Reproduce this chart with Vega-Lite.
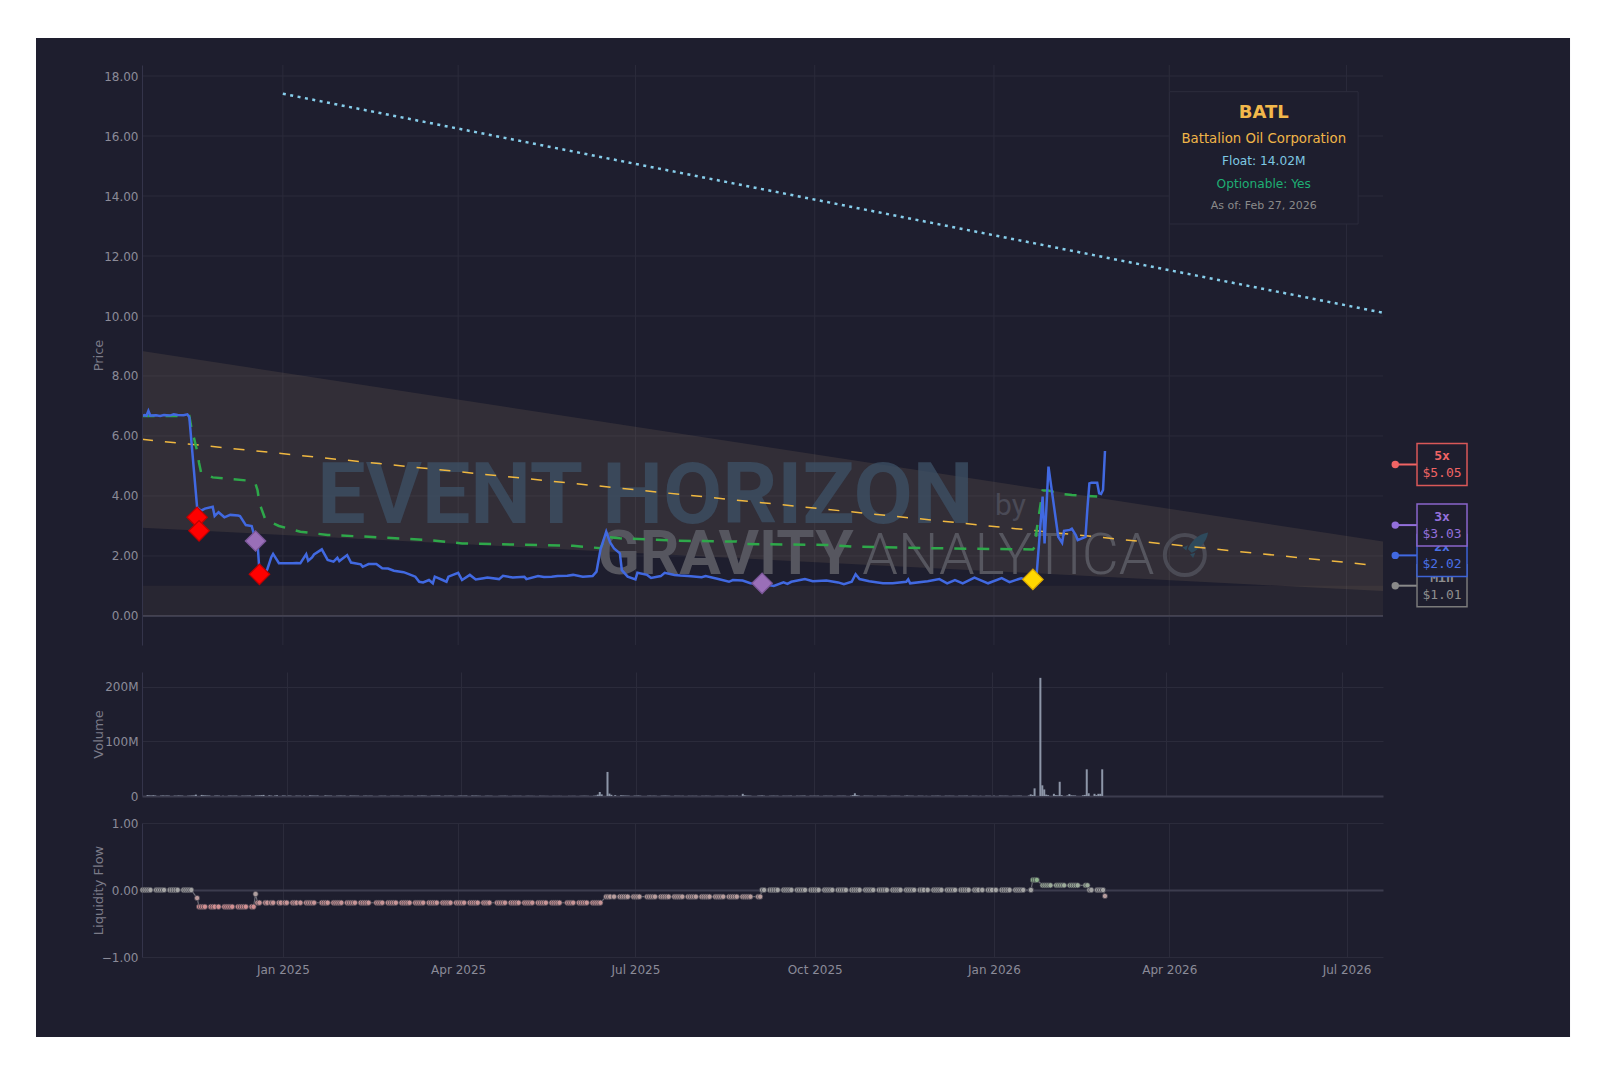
{
"$schema": "https://vega.github.io/schema/vega-lite/v6.json",
"background": "#ffffff",
"padding": {"left": 35, "top": 38, "right": 33, "bottom": 37},
"config": {
  "view": {"stroke": null},
  "font": "DejaVu Sans",
  "axis": {"gridColor": "#2b2b3b", "labelColor": "#8b8b98", "titleColor": "#7b7b88", "labelFont": "DejaVu Sans", "titleFont": "DejaVu Sans", "labelFontSize": 12, "titleFontSize": 13, "titleFontWeight": "normal", "ticks": false, "domain": false},
  "axisY": {"labelPadding": 4, "domain": true, "domainColor": "#34344a", "titleBaseline": "middle", "titleAngle": -90,
    "gridColor": {"condition": {"test": "datum.value === 0", "value": "#3c3c4e"}, "value": "#2b2b3b"},
    "gridWidth": {"condition": {"test": "datum.value === 0", "value": 2}, "value": 1}}
},
"datasets": {
  "daily": [
{"d":"2024-10-21","v":1.6,"f":0},{"d":"2024-10-22","v":1.1,"f":0},{"d":"2024-10-23","v":0.9,"f":0},{"d":"2024-10-24","v":1.4,"f":0},{"d":"2024-10-25","v":0.8,"f":0},
{"d":"2024-10-28","v":0.7,"f":0},{"d":"2024-10-29","v":0.9,"f":0},{"d":"2024-10-30","v":0.6,"f":0},{"d":"2024-10-31","v":0.8,"f":0},
{"d":"2024-11-01","v":0.7,"f":0},{"d":"2024-11-04","v":0.6,"f":0},{"d":"2024-11-05","v":0.5,"f":0},{"d":"2024-11-06","v":0.9,"f":0},{"d":"2024-11-07","v":0.7,"f":0},{"d":"2024-11-08","v":0.6,"f":0},
{"d":"2024-11-11","v":0.5,"f":0},{"d":"2024-11-12","v":0.6,"f":0},{"d":"2024-11-13","v":0.8,"f":0},{"d":"2024-11-14","v":0.9,"f":0},{"d":"2024-11-15","v":2.5,"f":0},
{"d":"2024-11-18","v":2.0,"f":-0.12},{"d":"2024-11-19","v":1.4,"f":-0.25},{"d":"2024-11-20","v":1.1,"f":-0.25},{"d":"2024-11-21","v":0.9,"f":-0.25},{"d":"2024-11-22","v":0.8,"f":-0.25},
{"d":"2024-11-25","v":0.7,"f":-0.25},{"d":"2024-11-26","v":0.8,"f":-0.25},{"d":"2024-11-27","v":0.6,"f":-0.25},{"d":"2024-11-29","v":0.4,"f":-0.25},
{"d":"2024-12-02","v":0.6,"f":-0.25},{"d":"2024-12-03","v":0.7,"f":-0.25},{"d":"2024-12-04","v":0.5,"f":-0.25},{"d":"2024-12-05","v":0.6,"f":-0.25},{"d":"2024-12-06","v":0.7,"f":-0.25},
{"d":"2024-12-09","v":0.6,"f":-0.25},{"d":"2024-12-10","v":0.5,"f":-0.25},{"d":"2024-12-11","v":0.6,"f":-0.25},{"d":"2024-12-12","v":0.7,"f":-0.25},{"d":"2024-12-13","v":0.8,"f":-0.25},
{"d":"2024-12-16","v":0.9,"f":-0.25},{"d":"2024-12-17","v":1.0,"f":-0.25},{"d":"2024-12-18","v":1.2,"f":-0.06},{"d":"2024-12-19","v":1.5,"f":-0.19},{"d":"2024-12-20","v":2.0,"f":-0.19},
{"d":"2024-12-23","v":1.2,"f":-0.19},{"d":"2024-12-24","v":0.6,"f":-0.19},{"d":"2024-12-26","v":0.9,"f":-0.19},{"d":"2024-12-27","v":1.3,"f":-0.19},{"d":"2024-12-30","v":0.8,"f":-0.19},{"d":"2024-12-31","v":0.7,"f":-0.19},
{"d":"2025-01-02","v":0.7,"f":-0.19},{"d":"2025-01-03","v":0.6,"f":-0.19},{"d":"2025-01-06","v":0.6,"f":-0.19},{"d":"2025-01-07","v":0.5,"f":-0.19},{"d":"2025-01-08","v":0.5,"f":-0.19},{"d":"2025-01-10","v":0.6,"f":-0.19},
{"d":"2025-01-13","v":1.1,"f":-0.19},{"d":"2025-01-14","v":0.8,"f":-0.19},{"d":"2025-01-15","v":0.7,"f":-0.19},{"d":"2025-01-16","v":0.6,"f":-0.19},{"d":"2025-01-17","v":0.8,"f":-0.19},
{"d":"2025-01-21","v":1.0,"f":-0.19},{"d":"2025-01-22","v":0.7,"f":-0.19},{"d":"2025-01-23","v":0.6,"f":-0.19},{"d":"2025-01-24","v":0.6,"f":-0.19},
{"d":"2025-01-27","v":0.5,"f":-0.19},{"d":"2025-01-28","v":0.6,"f":-0.19},{"d":"2025-01-29","v":0.7,"f":-0.19},{"d":"2025-01-30","v":0.5,"f":-0.19},{"d":"2025-01-31","v":0.6,"f":-0.19},
{"d":"2025-02-03","v":0.8,"f":-0.19},{"d":"2025-02-04","v":0.6,"f":-0.19},{"d":"2025-02-05","v":0.6,"f":-0.19},{"d":"2025-02-06","v":0.5,"f":-0.19},{"d":"2025-02-07","v":0.5,"f":-0.19},
{"d":"2025-02-10","v":0.5,"f":-0.19},{"d":"2025-02-11","v":0.6,"f":-0.19},{"d":"2025-02-12","v":0.4,"f":-0.19},{"d":"2025-02-13","v":0.5,"f":-0.19},{"d":"2025-02-14","v":0.5,"f":-0.19},
{"d":"2025-02-18","v":0.4,"f":-0.19},{"d":"2025-02-19","v":0.5,"f":-0.19},{"d":"2025-02-20","v":0.4,"f":-0.19},{"d":"2025-02-21","v":0.5,"f":-0.19},
{"d":"2025-02-24","v":0.4,"f":-0.19},{"d":"2025-02-25","v":0.5,"f":-0.19},{"d":"2025-02-26","v":0.4,"f":-0.19},{"d":"2025-02-27","v":0.5,"f":-0.19},{"d":"2025-02-28","v":0.6,"f":-0.19},
{"d":"2025-03-03","v":0.5,"f":-0.19},{"d":"2025-03-04","v":0.4,"f":-0.19},{"d":"2025-03-05","v":0.5,"f":-0.19},{"d":"2025-03-06","v":0.4,"f":-0.19},{"d":"2025-03-07","v":0.5,"f":-0.19},
{"d":"2025-03-10","v":0.6,"f":-0.19},{"d":"2025-03-11","v":0.5,"f":-0.19},{"d":"2025-03-12","v":0.7,"f":-0.19},{"d":"2025-03-13","v":0.6,"f":-0.19},{"d":"2025-03-14","v":0.5,"f":-0.19},
{"d":"2025-03-17","v":0.6,"f":-0.19},{"d":"2025-03-18","v":0.5,"f":-0.19},{"d":"2025-03-19","v":0.6,"f":-0.19},{"d":"2025-03-20","v":0.7,"f":-0.19},{"d":"2025-03-21","v":0.8,"f":-0.19},
{"d":"2025-03-24","v":0.5,"f":-0.19},{"d":"2025-03-25","v":0.4,"f":-0.19},{"d":"2025-03-26","v":0.5,"f":-0.19},{"d":"2025-03-27","v":0.6,"f":-0.19},{"d":"2025-03-28","v":0.4,"f":-0.19},{"d":"2025-03-31","v":0.5,"f":-0.19},
{"d":"2025-04-01","v":0.7,"f":-0.19},{"d":"2025-04-02","v":0.5,"f":-0.19},{"d":"2025-04-03","v":0.6,"f":-0.19},{"d":"2025-04-04","v":0.7,"f":-0.19},
{"d":"2025-04-07","v":0.8,"f":-0.19},{"d":"2025-04-08","v":0.6,"f":-0.19},{"d":"2025-04-09","v":0.7,"f":-0.19},{"d":"2025-04-10","v":0.5,"f":-0.19},{"d":"2025-04-11","v":0.4,"f":-0.19},
{"d":"2025-04-14","v":0.4,"f":-0.19},{"d":"2025-04-15","v":0.5,"f":-0.19},{"d":"2025-04-16","v":0.4,"f":-0.19},{"d":"2025-04-17","v":0.4,"f":-0.19},
{"d":"2025-04-21","v":0.3,"f":-0.19},{"d":"2025-04-22","v":0.4,"f":-0.19},{"d":"2025-04-23","v":0.4,"f":-0.19},{"d":"2025-04-24","v":0.5,"f":-0.19},{"d":"2025-04-25","v":0.3,"f":-0.19},
{"d":"2025-04-28","v":0.3,"f":-0.19},{"d":"2025-04-29","v":0.4,"f":-0.19},{"d":"2025-04-30","v":0.3,"f":-0.19},
{"d":"2025-05-01","v":0.3,"f":-0.19},{"d":"2025-05-02","v":0.4,"f":-0.19},{"d":"2025-05-05","v":0.3,"f":-0.19},{"d":"2025-05-06","v":0.4,"f":-0.19},{"d":"2025-05-07","v":0.3,"f":-0.19},{"d":"2025-05-08","v":0.3,"f":-0.19},{"d":"2025-05-09","v":0.2,"f":-0.19},
{"d":"2025-05-12","v":0.4,"f":-0.19},{"d":"2025-05-13","v":0.3,"f":-0.19},{"d":"2025-05-14","v":0.3,"f":-0.19},{"d":"2025-05-15","v":0.2,"f":-0.19},{"d":"2025-05-16","v":0.2,"f":-0.19},
{"d":"2025-05-19","v":0.3,"f":-0.19},{"d":"2025-05-20","v":0.2,"f":-0.19},{"d":"2025-05-21","v":0.2,"f":-0.19},{"d":"2025-05-22","v":0.3,"f":-0.19},{"d":"2025-05-23","v":0.2,"f":-0.19},
{"d":"2025-05-27","v":0.3,"f":-0.19},{"d":"2025-05-28","v":0.2,"f":-0.19},{"d":"2025-05-29","v":0.3,"f":-0.19},{"d":"2025-05-30","v":0.3,"f":-0.19},
{"d":"2025-06-02","v":0.3,"f":-0.19},{"d":"2025-06-03","v":0.4,"f":-0.19},{"d":"2025-06-04","v":0.5,"f":-0.19},{"d":"2025-06-05","v":0.4,"f":-0.19},{"d":"2025-06-06","v":0.3,"f":-0.19},
{"d":"2025-06-09","v":0.5,"f":-0.19},{"d":"2025-06-10","v":0.8,"f":-0.19},{"d":"2025-06-11","v":2.5,"f":-0.19},{"d":"2025-06-12","v":7.3,"f":-0.19},{"d":"2025-06-13","v":3.0,"f":-0.19},
{"d":"2025-06-16","v":44,"f":-0.10},{"d":"2025-06-17","v":4.4,"f":-0.10},{"d":"2025-06-18","v":2.2,"f":-0.10},{"d":"2025-06-20","v":1.5,"f":-0.10},
{"d":"2025-06-23","v":1.2,"f":-0.10},{"d":"2025-06-24","v":1.0,"f":-0.10},{"d":"2025-06-25","v":0.8,"f":-0.10},{"d":"2025-06-26","v":0.7,"f":-0.10},{"d":"2025-06-27","v":0.6,"f":-0.10},{"d":"2025-06-30","v":0.6,"f":-0.10},
{"d":"2025-07-01","v":0.6,"f":-0.10},{"d":"2025-07-02","v":0.8,"f":-0.10},{"d":"2025-07-03","v":0.5,"f":-0.10},{"d":"2025-07-07","v":0.5,"f":-0.10},{"d":"2025-07-08","v":0.6,"f":-0.10},{"d":"2025-07-09","v":0.4,"f":-0.10},{"d":"2025-07-10","v":0.5,"f":-0.10},{"d":"2025-07-11","v":0.4,"f":-0.10},
{"d":"2025-07-14","v":0.5,"f":-0.10},{"d":"2025-07-15","v":0.6,"f":-0.10},{"d":"2025-07-16","v":0.7,"f":-0.10},{"d":"2025-07-17","v":0.5,"f":-0.10},{"d":"2025-07-18","v":0.4,"f":-0.10},
{"d":"2025-07-21","v":0.5,"f":-0.10},{"d":"2025-07-22","v":0.4,"f":-0.10},{"d":"2025-07-23","v":0.4,"f":-0.10},{"d":"2025-07-24","v":0.3,"f":-0.10},{"d":"2025-07-25","v":0.4,"f":-0.10},
{"d":"2025-07-28","v":0.4,"f":-0.10},{"d":"2025-07-29","v":0.3,"f":-0.10},{"d":"2025-07-30","v":0.4,"f":-0.10},{"d":"2025-07-31","v":0.3,"f":-0.10},
{"d":"2025-08-01","v":0.4,"f":-0.10},{"d":"2025-08-04","v":0.4,"f":-0.10},{"d":"2025-08-05","v":0.3,"f":-0.10},{"d":"2025-08-06","v":0.5,"f":-0.10},{"d":"2025-08-07","v":0.4,"f":-0.10},{"d":"2025-08-08","v":0.3,"f":-0.10},
{"d":"2025-08-11","v":0.3,"f":-0.10},{"d":"2025-08-12","v":0.4,"f":-0.10},{"d":"2025-08-13","v":0.3,"f":-0.10},{"d":"2025-08-14","v":0.4,"f":-0.10},{"d":"2025-08-15","v":0.3,"f":-0.10},
{"d":"2025-08-18","v":0.5,"f":-0.10},{"d":"2025-08-19","v":0.4,"f":-0.10},{"d":"2025-08-20","v":0.5,"f":-0.10},{"d":"2025-08-21","v":0.4,"f":-0.10},{"d":"2025-08-22","v":0.6,"f":-0.10},
{"d":"2025-08-25","v":4.0,"f":-0.10},{"d":"2025-08-26","v":1.2,"f":-0.10},{"d":"2025-08-27","v":0.7,"f":-0.10},{"d":"2025-08-28","v":0.6,"f":-0.10},{"d":"2025-08-29","v":0.5,"f":-0.10},
{"d":"2025-09-02","v":0.6,"f":-0.10},{"d":"2025-09-03","v":0.7,"f":-0.10},{"d":"2025-09-04","v":0.9,"f":0},{"d":"2025-09-05","v":0.5,"f":0},
{"d":"2025-09-08","v":0.4,"f":0},{"d":"2025-09-09","v":0.5,"f":0},{"d":"2025-09-10","v":0.6,"f":0},{"d":"2025-09-11","v":0.4,"f":0},{"d":"2025-09-12","v":0.5,"f":0},
{"d":"2025-09-15","v":0.5,"f":0},{"d":"2025-09-16","v":0.4,"f":0},{"d":"2025-09-17","v":0.4,"f":0},{"d":"2025-09-18","v":0.5,"f":0},{"d":"2025-09-19","v":0.6,"f":0},
{"d":"2025-09-22","v":0.5,"f":0},{"d":"2025-09-23","v":0.4,"f":0},{"d":"2025-09-24","v":0.5,"f":0},{"d":"2025-09-25","v":0.6,"f":0},{"d":"2025-09-26","v":0.7,"f":0},{"d":"2025-09-29","v":0.5,"f":0},{"d":"2025-09-30","v":0.4,"f":0},
{"d":"2025-10-01","v":0.5,"f":0},{"d":"2025-10-02","v":0.4,"f":0},{"d":"2025-10-03","v":0.5,"f":0},{"d":"2025-10-06","v":0.4,"f":0},{"d":"2025-10-07","v":0.5,"f":0},{"d":"2025-10-08","v":0.4,"f":0},{"d":"2025-10-09","v":0.4,"f":0},{"d":"2025-10-10","v":0.5,"f":0},
{"d":"2025-10-13","v":0.4,"f":0},{"d":"2025-10-14","v":0.5,"f":0},{"d":"2025-10-15","v":0.4,"f":0},{"d":"2025-10-16","v":0.5,"f":0},{"d":"2025-10-17","v":0.4,"f":0},
{"d":"2025-10-20","v":0.6,"f":0},{"d":"2025-10-21","v":1.5,"f":0},{"d":"2025-10-22","v":5.0,"f":0},{"d":"2025-10-23","v":1.4,"f":0},{"d":"2025-10-24","v":0.8,"f":0},
{"d":"2025-10-27","v":0.6,"f":0},{"d":"2025-10-28","v":0.5,"f":0},{"d":"2025-10-29","v":0.5,"f":0},{"d":"2025-10-30","v":0.4,"f":0},{"d":"2025-10-31","v":0.4,"f":0},
{"d":"2025-11-03","v":0.5,"f":0},{"d":"2025-11-04","v":0.4,"f":0},{"d":"2025-11-05","v":0.4,"f":0},{"d":"2025-11-06","v":0.5,"f":0},{"d":"2025-11-07","v":0.4,"f":0},
{"d":"2025-11-10","v":0.4,"f":0},{"d":"2025-11-11","v":0.4,"f":0},{"d":"2025-11-12","v":0.5,"f":0},{"d":"2025-11-13","v":0.4,"f":0},{"d":"2025-11-14","v":0.4,"f":0},
{"d":"2025-11-17","v":0.5,"f":0},{"d":"2025-11-18","v":0.8,"f":0},{"d":"2025-11-19","v":0.5,"f":0},{"d":"2025-11-20","v":0.4,"f":0},{"d":"2025-11-21","v":0.4,"f":0},
{"d":"2025-11-24","v":0.5,"f":0},{"d":"2025-11-25","v":0.4,"f":0},{"d":"2025-11-26","v":0.4,"f":0},{"d":"2025-11-28","v":0.3,"f":0},
{"d":"2025-12-01","v":0.5,"f":0},{"d":"2025-12-02","v":0.4,"f":0},{"d":"2025-12-03","v":0.5,"f":0},{"d":"2025-12-04","v":0.6,"f":0},{"d":"2025-12-05","v":0.4,"f":0},
{"d":"2025-12-08","v":0.5,"f":0},{"d":"2025-12-09","v":0.4,"f":0},{"d":"2025-12-10","v":0.5,"f":0},{"d":"2025-12-11","v":0.4,"f":0},{"d":"2025-12-12","v":0.4,"f":0},
{"d":"2025-12-15","v":0.5,"f":0},{"d":"2025-12-16","v":0.4,"f":0},{"d":"2025-12-17","v":0.4,"f":0},{"d":"2025-12-18","v":0.5,"f":0},{"d":"2025-12-19","v":0.6,"f":0},
{"d":"2025-12-22","v":0.5,"f":0},{"d":"2025-12-23","v":0.4,"f":0},{"d":"2025-12-24","v":0.3,"f":0},{"d":"2025-12-26","v":0.4,"f":0},{"d":"2025-12-29","v":0.5,"f":0},{"d":"2025-12-30","v":0.4,"f":0},{"d":"2025-12-31","v":0.4,"f":0},
{"d":"2026-01-02","v":0.5,"f":0},{"d":"2026-01-05","v":0.6,"f":0},{"d":"2026-01-06","v":0.5,"f":0},{"d":"2026-01-07","v":0.4,"f":0},{"d":"2026-01-08","v":0.5,"f":0},{"d":"2026-01-09","v":0.4,"f":0},
{"d":"2026-01-12","v":0.5,"f":0},{"d":"2026-01-13","v":0.4,"f":0},{"d":"2026-01-14","v":0.5,"f":0},{"d":"2026-01-15","v":0.6,"f":0},{"d":"2026-01-16","v":0.5,"f":0},
{"d":"2026-01-20","v":0.8,"f":0},{"d":"2026-01-21","v":3.0,"f":0.15},{"d":"2026-01-22","v":2.0,"f":0.15},{"d":"2026-01-23","v":14,"f":0.15},
{"d":"2026-01-26","v":216,"f":0.07},{"d":"2026-01-27","v":19.5,"f":0.07},{"d":"2026-01-28","v":12,"f":0.07},{"d":"2026-01-29","v":2.5,"f":0.07},{"d":"2026-01-30","v":1.5,"f":0.07},
{"d":"2026-02-02","v":4.0,"f":0.07},{"d":"2026-02-03","v":1.5,"f":0.07},{"d":"2026-02-04","v":1.2,"f":0.07},{"d":"2026-02-05","v":26,"f":0.07},{"d":"2026-02-06","v":1.5,"f":0.07},
{"d":"2026-02-09","v":1.0,"f":0.07},{"d":"2026-02-10","v":3.5,"f":0.07},{"d":"2026-02-11","v":1.2,"f":0.07},{"d":"2026-02-12","v":1.0,"f":0.07},{"d":"2026-02-13","v":0.9,"f":0.07},
{"d":"2026-02-17","v":1.2,"f":0.07},{"d":"2026-02-18","v":2.0,"f":0.07},{"d":"2026-02-19","v":48.8,"f":0},{"d":"2026-02-20","v":5.0,"f":0},
{"d":"2026-02-23","v":4.0,"f":0},{"d":"2026-02-24","v":1.5,"f":0},{"d":"2026-02-25","v":4.0,"f":0},{"d":"2026-02-26","v":4.0,"f":0},{"d":"2026-02-27","v":48.8,"f":-0.09}
  ],
  "price": [
{"d":"2024-10-21","y":6.67},{"d":"2024-10-22","y":6.70},{"d":"2024-10-23","y":6.68},{"d":"2024-10-24","y":6.84},{"d":"2024-10-25","y":6.68},{"d":"2024-10-28","y":6.69},{"d":"2024-10-30","y":6.67},
{"d":"2024-11-01","y":6.70},{"d":"2024-11-04","y":6.68},{"d":"2024-11-06","y":6.72},{"d":"2024-11-08","y":6.70},{"d":"2024-11-11","y":6.69},{"d":"2024-11-13","y":6.72},{"d":"2024-11-14","y":6.62},
{"d":"2024-11-18","y":3.62},{"d":"2024-11-20","y":3.51},{"d":"2024-11-22","y":3.58},{"d":"2024-11-26","y":3.64},{"d":"2024-11-27","y":3.33},{"d":"2024-11-29","y":3.46},
{"d":"2024-12-02","y":3.29},{"d":"2024-12-05","y":3.37},{"d":"2024-12-09","y":3.35},{"d":"2024-12-10","y":3.33},{"d":"2024-12-13","y":3.03},{"d":"2024-12-16","y":3.00},{"d":"2024-12-17","y":2.76},
{"d":"2024-12-18","y":2.55},{"d":"2024-12-19","y":2.42},{"d":"2024-12-20","y":1.50},{"d":"2024-12-23","y":1.45},{"d":"2024-12-24","y":1.55},{"d":"2024-12-26","y":1.95},{"d":"2024-12-27","y":2.07},{"d":"2024-12-30","y":1.76},
{"d":"2025-01-02","y":1.76},{"d":"2025-01-06","y":1.76},{"d":"2025-01-08","y":1.77},{"d":"2025-01-10","y":1.76},{"d":"2025-01-13","y":2.06},{"d":"2025-01-14","y":1.84},{"d":"2025-01-16","y":1.95},{"d":"2025-01-17","y":2.05},
{"d":"2025-01-21","y":2.22},{"d":"2025-01-24","y":1.87},{"d":"2025-01-27","y":1.81},{"d":"2025-01-29","y":1.94},{"d":"2025-01-30","y":1.83},{"d":"2025-02-03","y":2.03},{"d":"2025-02-05","y":1.78},{"d":"2025-02-07","y":1.76},
{"d":"2025-02-10","y":1.72},{"d":"2025-02-11","y":1.64},{"d":"2025-02-14","y":1.73},{"d":"2025-02-18","y":1.73},{"d":"2025-02-21","y":1.59},{"d":"2025-02-24","y":1.58},{"d":"2025-02-27","y":1.51},
{"d":"2025-03-04","y":1.46},{"d":"2025-03-07","y":1.39},{"d":"2025-03-10","y":1.31},{"d":"2025-03-12","y":1.14},{"d":"2025-03-14","y":1.12},{"d":"2025-03-17","y":1.20},{"d":"2025-03-19","y":1.09},{"d":"2025-03-20","y":1.31},
{"d":"2025-03-24","y":1.20},{"d":"2025-03-26","y":1.14},{"d":"2025-03-27","y":1.31},{"d":"2025-04-01","y":1.44},{"d":"2025-04-03","y":1.20},{"d":"2025-04-07","y":1.37},{"d":"2025-04-10","y":1.22},{"d":"2025-04-14","y":1.26},
{"d":"2025-04-16","y":1.28},{"d":"2025-04-22","y":1.23},{"d":"2025-04-24","y":1.34},{"d":"2025-04-29","y":1.28},{"d":"2025-05-05","y":1.31},{"d":"2025-05-06","y":1.23},{"d":"2025-05-12","y":1.33},{"d":"2025-05-15","y":1.30},
{"d":"2025-05-19","y":1.31},{"d":"2025-05-22","y":1.33},{"d":"2025-05-27","y":1.34},{"d":"2025-05-30","y":1.37},{"d":"2025-06-04","y":1.31},{"d":"2025-06-09","y":1.33},{"d":"2025-06-11","y":1.48},{"d":"2025-06-13","y":2.20},
{"d":"2025-06-16","y":2.81},{"d":"2025-06-18","y":2.45},{"d":"2025-06-20","y":2.25},{"d":"2025-06-23","y":2.09},{"d":"2025-06-24","y":1.53},{"d":"2025-06-27","y":1.31},{"d":"2025-07-01","y":1.22},{"d":"2025-07-02","y":1.44},
{"d":"2025-07-07","y":1.37},{"d":"2025-07-09","y":1.27},{"d":"2025-07-14","y":1.33},{"d":"2025-07-16","y":1.44},{"d":"2025-07-21","y":1.37},{"d":"2025-07-24","y":1.35},{"d":"2025-07-28","y":1.33},{"d":"2025-08-04","y":1.29},
{"d":"2025-08-06","y":1.33},{"d":"2025-08-12","y":1.24},{"d":"2025-08-18","y":1.14},{"d":"2025-08-20","y":1.20},{"d":"2025-08-25","y":1.18},{"d":"2025-08-29","y":1.09},{"d":"2025-09-04","y":1.07},{"d":"2025-09-10","y":1.00},
{"d":"2025-09-15","y":1.12},{"d":"2025-09-17","y":1.07},{"d":"2025-09-19","y":1.14},{"d":"2025-09-26","y":1.23},{"d":"2025-09-30","y":1.16},{"d":"2025-10-07","y":1.18},{"d":"2025-10-13","y":1.12},{"d":"2025-10-16","y":1.06},
{"d":"2025-10-20","y":1.14},{"d":"2025-10-22","y":1.39},{"d":"2025-10-24","y":1.23},{"d":"2025-10-29","y":1.16},{"d":"2025-11-05","y":1.09},{"d":"2025-11-10","y":1.09},{"d":"2025-11-17","y":1.14},{"d":"2025-11-18","y":1.22},
{"d":"2025-11-19","y":1.09},{"d":"2025-11-28","y":1.16},{"d":"2025-12-04","y":1.23},{"d":"2025-12-08","y":1.09},{"d":"2025-12-12","y":1.20},{"d":"2025-12-16","y":1.09},{"d":"2025-12-22","y":1.28},{"d":"2025-12-29","y":1.09},
{"d":"2026-01-05","y":1.26},{"d":"2026-01-09","y":1.13},{"d":"2026-01-15","y":1.26},{"d":"2026-01-20","y":1.18},{"d":"2026-01-21","y":1.22},{"d":"2026-01-23","y":1.45},{"d":"2026-01-26","y":3.98},{"d":"2026-01-27","y":2.42},
{"d":"2026-01-29","y":4.98},{"d":"2026-02-03","y":2.64},{"d":"2026-02-05","y":2.44},{"d":"2026-02-06","y":2.84},{"d":"2026-02-09","y":2.87},{"d":"2026-02-10","y":2.91},{"d":"2026-02-12","y":2.70},{"d":"2026-02-13","y":2.53},
{"d":"2026-02-17","y":2.64},{"d":"2026-02-18","y":3.60},{"d":"2026-02-19","y":4.42},{"d":"2026-02-20","y":4.44},{"d":"2026-02-23","y":4.44},{"d":"2026-02-24","y":4.09},{"d":"2026-02-25","y":4.07},{"d":"2026-02-26","y":4.20},{"d":"2026-02-27","y":5.50}
  ],
  "avg": [
{"d":"2024-10-21","y":6.67},{"d":"2024-11-14","y":6.67},{"d":"2024-11-15","y":6.30},{"d":"2024-11-18","y":5.50},{"d":"2024-11-19","y":5.10},{"d":"2024-11-20","y":4.80},{"d":"2024-11-26","y":4.62},
{"d":"2024-12-13","y":4.52},{"d":"2024-12-18","y":4.40},{"d":"2024-12-19","y":4.20},{"d":"2024-12-20","y":3.76},{"d":"2024-12-23","y":3.22},{"d":"2024-12-30","y":3.00},
{"d":"2025-01-10","y":2.81},{"d":"2025-01-24","y":2.70},{"d":"2025-02-14","y":2.64},{"d":"2025-03-17","y":2.53},{"d":"2025-04-03","y":2.42},{"d":"2025-05-30","y":2.34},{"d":"2025-06-13","y":2.26},
{"d":"2025-06-16","y":2.64},{"d":"2025-06-23","y":2.59},{"d":"2025-07-22","y":2.51},{"d":"2025-08-22","y":2.48},{"d":"2025-08-25","y":2.40},{"d":"2025-10-07","y":2.37},{"d":"2025-10-22","y":2.31},{"d":"2025-11-28","y":2.26},
{"d":"2026-01-21","y":2.22},{"d":"2026-01-22","y":2.30},{"d":"2026-01-23","y":2.90},{"d":"2026-01-26","y":4.18},{"d":"2026-01-29","y":4.18},{"d":"2026-02-05","y":4.07},{"d":"2026-02-10","y":4.03},{"d":"2026-02-23","y":3.98}
  ],
  "dotted": [{"d":"2025-01-01","y":17.41},{"d":"2026-07-19T17:00:00","y":10.11}],
  "trend": [{"d":"2024-10-20T17:00:00","y":5.89},{"d":"2026-07-15","y":1.69}],
  "cone": [{"d":"2024-10-20T17:00:00","y":8.83,"y2":2.94},{"d":"2026-07-19T17:00:00","y":2.48,"y2":0.83}],
  "floor": [{"d":"2024-10-20T17:00:00","y":1.01,"y2":0},{"d":"2026-07-19T17:00:00","y":1.01,"y2":0}],
  "gridx": [{"d":"2025-01-01"},{"d":"2025-04-01"},{"d":"2025-07-01"},{"d":"2025-10-01"},{"d":"2026-01-01"},{"d":"2026-04-01"},{"d":"2026-07-01"}],
  "gridy": [{"y":2},{"y":4},{"y":6},{"y":8},{"y":10},{"y":12},{"y":14},{"y":16},{"y":18}],
  "events": [{"d":"2024-11-18","y":3.29,"c":"red"},{"d":"2024-11-19","y":2.84,"c":"red"},{"d":"2024-12-18","y":2.50,"c":"purple"},{"d":"2024-12-20","y":1.39,"c":"red"},{"d":"2025-09-04","y":1.09,"c":"purple"},{"d":"2026-01-21","y":1.22,"c":"gold"}],
  "levels": [{"y":1.01,"lab":"Min","t":"$1.01"},{"y":2.02,"lab":"2x","t":"$2.02"},{"y":3.03,"lab":"3x","t":"$3.03"},{"y":5.05,"lab":"5x","t":"$5.05"}]
},
"bounds": "flush",
"spacing": 27,
"vconcat": [
{
  "width": 1241, "height": 580,
  "layer": [
    {"data": {"values": [{"t": "panel"}]}, "mark": {"type": "rect", "fill": "#1e1e2e"},
      "encoding": {
        "x": {"datum": {"year":2024,"month":8,"date":27,"hours":7,"minutes":10}, "type": "temporal",
          "scale": {"domain": [{"year":2024,"month":10,"date":20,"hours":17},{"year":2026,"month":7,"date":19,"hours":17}]},
          "axis": {"title": null, "labels": false, "grid": false, "ticks": false, "domain": false}},
        "x2": {"datum": {"year":2026,"month":10,"date":23,"hours":17}},
        "y": {"datum": 19.267, "type": "quantitative", "scale": {"domain": [-0.967, 18.367], "nice": false, "zero": false},
          "axis": {"title": "Price", "values": [0,2,4,6,8,10,12,14,16,18], "format": ".2f", "grid": false, "zindex": 1, "titleX": -44, "titleY": 290}},
        "y2": {"datum": -14.033}}},
    {"data": {"name": "gridx"}, "mark": {"type": "rule", "color": "#2b2b3b", "strokeWidth": 1},
      "encoding": {"x": {"field": "d", "type": "temporal"}}},
    {"data": {"name": "gridy"}, "mark": {"type": "rule", "color": "#2b2b3b", "strokeWidth": 1},
      "encoding": {"y": {"field": "y", "type": "quantitative"}}},
    {"data": {"values": [{"t": "zero"}]}, "mark": {"type": "rule", "color": "#3c3c4e", "strokeWidth": 2},
      "encoding": {"y": {"datum": 0, "type": "quantitative"}}},
    {"data": {"name": "floor"}, "mark": {"type": "area", "color": "#c9a27e", "opacity": 0.06},
      "encoding": {"x": {"field": "d", "type": "temporal"}, "y": {"field": "y", "type": "quantitative"}, "y2": {"field": "y2"}}},
    {"data": {"name": "cone"}, "mark": {"type": "area", "color": "#c9a27e", "opacity": 0.12},
      "encoding": {"x": {"field": "d", "type": "temporal"}, "y": {"field": "y", "type": "quantitative"}, "y2": {"field": "y2"}}},
    {"data": {"values": [{"t": "EVENT HORIZON"}]}, "mark": {"type": "text", "font": "Roboto", "fontWeight": "bold", "fontSize": 86, "color": "#3d5166", "opacity": 0.75, "align": "center", "baseline": "alphabetic"},
      "encoding": {"x": {"datum": {"year":2025,"month":7,"date":6,"hours":3}, "type": "temporal"}, "y": {"datum": 3.097, "type": "quantitative"}, "text": {"field": "t"}}},
    {"data": {"values": [{"t": "by"}]}, "mark": {"type": "text", "font": "Roboto", "fontSize": 30, "color": "#4a4a56", "align": "center", "baseline": "alphabetic"},
      "encoding": {"x": {"datum": {"year":2026,"month":1,"date":9,"hours":12}, "type": "temporal"}, "y": {"datum": 3.37, "type": "quantitative"}, "text": {"field": "t"}}},
    {"data": {"values": [{"t": "GRAVITY"}]}, "mark": {"type": "text", "font": "Roboto", "fontWeight": "bold", "fontSize": 62, "color": "#56565f", "align": "right", "baseline": "alphabetic"},
      "encoding": {"x": {"datum": {"year":2025,"month":10,"date":21,"hours":0}, "type": "temporal"}, "y": {"datum": 1.393, "type": "quantitative"}, "text": {"field": "t"}}},
    {"data": {"values": [{"t": "ANALYTICA"}]}, "mark": {"type": "text", "font": "Roboto", "fontWeight": 300, "fontSize": 57, "color": "#56565f", "align": "left", "baseline": "alphabetic"},
      "encoding": {"x": {"datum": {"year":2025,"month":10,"date":25,"hours":10}, "type": "temporal"}, "y": {"datum": 1.393, "type": "quantitative"}, "text": {"field": "t"}}},
    {"data": {"values": [{"t": "logo"}]}, "mark": {"type": "point", "shape": "circle", "size": 1600, "filled": false, "stroke": "#4b4b55", "strokeWidth": 4, "opacity": 1},
      "encoding": {"x": {"datum": {"year":2026,"month":4,"date":9}, "type": "temporal"}, "y": {"datum": 2.03, "type": "quantitative"}}},
    {"data": {"values": [{"t": "rocket"}]}, "mark": {"type": "point", "shape": "M0.9,-0.9C0.2,-0.8,-0.3,-0.2,-0.45,0.2L-0.2,0.45C0.2,0.3,0.8,-0.2,0.9,-0.9ZM-0.45,-0.05L-0.8,0.1L-0.55,0.3ZM0.05,0.45L-0.1,0.8L-0.3,0.55Z", "size": 900, "filled": true, "fill": "#2e4a5c", "opacity": 1},
      "encoding": {"x": {"datum": {"year":2026,"month":4,"date":14}, "type": "temporal"}, "y": {"datum": 2.33, "type": "quantitative"}}},
    {"data": {"values": [{"t": "box"}]}, "mark": {"type": "point", "shape": "M-1,-0.701H1V0.701H-1Z", "size": 35608, "fill": "#1e1e2e", "fillOpacity": 1, "stroke": "#2c2c3d", "strokeWidth": 1, "opacity": 1},
      "encoding": {"x": {"datum": {"year":2026,"month":5,"date":19,"hours":12}, "type": "temporal"}, "y": {"datum": 15.272, "type": "quantitative"}}},
    {"data": {"values": [{"t": "BATL"}]}, "mark": {"type": "text", "fontSize": 18, "fontWeight": "bold", "color": "#f2b84b", "baseline": "middle"},
      "encoding": {"x": {"datum": {"year":2026,"month":5,"date":19,"hours":12}, "type": "temporal"}, "y": {"datum": 16.757, "type": "quantitative"}, "text": {"field": "t"}}},
    {"data": {"values": [{"t": "Battalion Oil Corporation"}]}, "mark": {"type": "text", "fontSize": 13.3, "color": "#f0b548", "baseline": "middle"},
      "encoding": {"x": {"datum": {"year":2026,"month":5,"date":19,"hours":12}, "type": "temporal"}, "y": {"datum": 15.9, "type": "quantitative"}, "text": {"field": "t"}}},
    {"data": {"values": [{"t": "Float: 14.02M"}]}, "mark": {"type": "text", "fontSize": 12.2, "color": "#7ec8e3", "baseline": "middle"},
      "encoding": {"x": {"datum": {"year":2026,"month":5,"date":19,"hours":12}, "type": "temporal"}, "y": {"datum": 15.177, "type": "quantitative"}, "text": {"field": "t"}}},
    {"data": {"values": [{"t": "Optionable: Yes"}]}, "mark": {"type": "text", "fontSize": 12.2, "color": "#1fae74", "baseline": "middle"},
      "encoding": {"x": {"datum": {"year":2026,"month":5,"date":19,"hours":12}, "type": "temporal"}, "y": {"datum": 14.41, "type": "quantitative"}, "text": {"field": "t"}}},
    {"data": {"values": [{"t": "As of: Feb 27, 2026"}]}, "mark": {"type": "text", "fontSize": 11, "color": "#8a8a8a", "baseline": "middle"},
      "encoding": {"x": {"datum": {"year":2026,"month":5,"date":19,"hours":12}, "type": "temporal"}, "y": {"datum": 13.667, "type": "quantitative"}, "text": {"field": "t"}}},
    {"data": {"name": "dotted"}, "mark": {"type": "line", "color": "#87ceeb", "strokeWidth": 2.5, "strokeDash": [3, 4.5]},
      "encoding": {"x": {"field": "d", "type": "temporal"}, "y": {"field": "y", "type": "quantitative"}}},
    {"data": {"name": "trend"}, "mark": {"type": "line", "color": "#f0b840", "strokeWidth": 1.5, "strokeDash": [11, 12]},
      "encoding": {"x": {"field": "d", "type": "temporal"}, "y": {"field": "y", "type": "quantitative"}}},
    {"data": {"name": "avg"}, "mark": {"type": "line", "color": "#2ea84a", "strokeWidth": 2.5, "strokeDash": [12, 11]},
      "encoding": {"x": {"field": "d", "type": "temporal"}, "y": {"field": "y", "type": "quantitative"}}},
    {"data": {"name": "price"}, "mark": {"type": "line", "color": "#4169e1", "strokeWidth": 2.5},
      "encoding": {"x": {"field": "d", "type": "temporal"}, "y": {"field": "y", "type": "quantitative"}}},
    {"data": {"name": "events"}, "mark": {"type": "point", "shape": "diamond", "size": 420, "filled": true, "opacity": 1, "strokeWidth": 1.2},
      "encoding": {"x": {"field": "d", "type": "temporal"}, "y": {"field": "y", "type": "quantitative"},
        "fill": {"field": "c", "type": "nominal", "scale": {"domain": ["red","purple","gold"], "range": ["#ff0000","#9a6fb8","#ffd700"]}, "legend": null},
        "stroke": {"field": "c", "type": "nominal", "scale": {"domain": ["red","purple","gold"], "range": ["#c00000","#7a5698","#d8a400"]}, "legend": null}}},
    {"data": {"name": "levels"}, "mark": {"type": "rule", "strokeWidth": 2},
      "encoding": {"x": {"datum": {"year":2026,"month":7,"date":26}, "type": "temporal"}, "x2": {"datum": {"year":2026,"month":8,"date":6,"hours":5}}, "y": {"field": "y", "type": "quantitative"},
        "color": {"field": "lab", "type": "nominal", "scale": {"domain": ["5x","3x","2x","Min"], "range": ["#f06464","#9370db","#4169e1","#8a8a8a"]}, "legend": null}}},
    {"data": {"name": "levels"}, "mark": {"type": "point", "shape": "circle", "size": 55, "filled": true, "opacity": 1},
      "encoding": {"x": {"datum": {"year":2026,"month":7,"date":26}, "type": "temporal"}, "y": {"field": "y", "type": "quantitative"},
        "color": {"field": "lab", "type": "nominal", "scale": {"domain": ["5x","3x","2x","Min"], "range": ["#f06464","#9370db","#4169e1","#8a8a8a"]}, "legend": null}}},
    {"data": {"name": "levels"}, "transform": [{"filter": "datum.lab === 'Min'"}], "mark": {"type": "point", "shape": "M-1,-0.84H1V0.84H-1Z", "size": 2500, "fill": "#1e1e2e", "fillOpacity": 1, "stroke": "#7a7a7a", "strokeWidth": 1.5, "opacity": 1},
      "encoding": {"x": {"datum": {"year":2026,"month":8,"date":19}, "type": "temporal"}, "y": {"field": "y", "type": "quantitative"}}},
    {"data": {"name": "levels"}, "transform": [{"filter": "datum.lab === 'Min'"}], "mark": {"type": "text", "font": "DejaVu Sans Mono", "fontSize": 13, "fontWeight": "bold", "dy": -8, "baseline": "middle", "color": "#8e8e8e"},
      "encoding": {"x": {"datum": {"year":2026,"month":8,"date":19}, "type": "temporal"}, "y": {"field": "y", "type": "quantitative"}, "text": {"field": "lab"}}},
    {"data": {"name": "levels"}, "transform": [{"filter": "datum.lab === 'Min'"}], "mark": {"type": "text", "font": "DejaVu Sans Mono", "fontSize": 13, "dy": 9, "baseline": "middle", "color": "#8e8e8e"},
      "encoding": {"x": {"datum": {"year":2026,"month":8,"date":19}, "type": "temporal"}, "y": {"field": "y", "type": "quantitative"}, "text": {"field": "t"}}},
    {"data": {"name": "levels"}, "transform": [{"filter": "datum.lab === '2x'"}], "mark": {"type": "point", "shape": "M-1,-0.84H1V0.84H-1Z", "size": 2500, "fill": "#1e1e2e", "fillOpacity": 1, "stroke": "#3d63d6", "strokeWidth": 1.5, "opacity": 1},
      "encoding": {"x": {"datum": {"year":2026,"month":8,"date":19}, "type": "temporal"}, "y": {"field": "y", "type": "quantitative"}}},
    {"data": {"name": "levels"}, "transform": [{"filter": "datum.lab === '2x'"}], "mark": {"type": "text", "font": "DejaVu Sans Mono", "fontSize": 13, "fontWeight": "bold", "dy": -8, "baseline": "middle", "color": "#4a70e6"},
      "encoding": {"x": {"datum": {"year":2026,"month":8,"date":19}, "type": "temporal"}, "y": {"field": "y", "type": "quantitative"}, "text": {"field": "lab"}}},
    {"data": {"name": "levels"}, "transform": [{"filter": "datum.lab === '2x'"}], "mark": {"type": "text", "font": "DejaVu Sans Mono", "fontSize": 13, "dy": 9, "baseline": "middle", "color": "#4a70e6"},
      "encoding": {"x": {"datum": {"year":2026,"month":8,"date":19}, "type": "temporal"}, "y": {"field": "y", "type": "quantitative"}, "text": {"field": "t"}}},
    {"data": {"name": "levels"}, "transform": [{"filter": "datum.lab === '3x'"}], "mark": {"type": "point", "shape": "M-1,-0.84H1V0.84H-1Z", "size": 2500, "fill": "#1e1e2e", "fillOpacity": 1, "stroke": "#8a66cc", "strokeWidth": 1.5, "opacity": 1},
      "encoding": {"x": {"datum": {"year":2026,"month":8,"date":19}, "type": "temporal"}, "y": {"field": "y", "type": "quantitative"}}},
    {"data": {"name": "levels"}, "transform": [{"filter": "datum.lab === '3x'"}], "mark": {"type": "text", "font": "DejaVu Sans Mono", "fontSize": 13, "fontWeight": "bold", "dy": -8, "baseline": "middle", "color": "#9370db"},
      "encoding": {"x": {"datum": {"year":2026,"month":8,"date":19}, "type": "temporal"}, "y": {"field": "y", "type": "quantitative"}, "text": {"field": "lab"}}},
    {"data": {"name": "levels"}, "transform": [{"filter": "datum.lab === '3x'"}], "mark": {"type": "text", "font": "DejaVu Sans Mono", "fontSize": 13, "dy": 9, "baseline": "middle", "color": "#9370db"},
      "encoding": {"x": {"datum": {"year":2026,"month":8,"date":19}, "type": "temporal"}, "y": {"field": "y", "type": "quantitative"}, "text": {"field": "t"}}},
    {"data": {"name": "levels"}, "transform": [{"filter": "datum.lab === '5x'"}], "mark": {"type": "point", "shape": "M-1,-0.84H1V0.84H-1Z", "size": 2500, "fill": "#1e1e2e", "fillOpacity": 1, "stroke": "#d95858", "strokeWidth": 1.5, "opacity": 1},
      "encoding": {"x": {"datum": {"year":2026,"month":8,"date":19}, "type": "temporal"}, "y": {"field": "y", "type": "quantitative"}}},
    {"data": {"name": "levels"}, "transform": [{"filter": "datum.lab === '5x'"}], "mark": {"type": "text", "font": "DejaVu Sans Mono", "fontSize": 13, "fontWeight": "bold", "dy": -8, "baseline": "middle", "color": "#f06464"},
      "encoding": {"x": {"datum": {"year":2026,"month":8,"date":19}, "type": "temporal"}, "y": {"field": "y", "type": "quantitative"}, "text": {"field": "lab"}}},
    {"data": {"name": "levels"}, "transform": [{"filter": "datum.lab === '5x'"}], "mark": {"type": "text", "font": "DejaVu Sans Mono", "fontSize": 13, "dy": 9, "baseline": "middle", "color": "#f06464"},
      "encoding": {"x": {"datum": {"year":2026,"month":8,"date":19}, "type": "temporal"}, "y": {"field": "y", "type": "quantitative"}, "text": {"field": "t"}}}
  ]
},
{
  "width": 1241, "height": 124,
  "data": {"name": "daily"},
  "mark": {"type": "bar", "width": 2, "color": "#8d96a8"},
  "encoding": {
    "x": {"field": "d", "type": "temporal", "scale": {"domain": [{"year":2024,"month":10,"date":20,"hours":17},{"year":2026,"month":7,"date":19,"hours":17}]},
      "axis": {"title": null, "labels": false, "grid": true, "values": [{"year":2025,"month":1,"date":1},{"year":2025,"month":4,"date":1},{"year":2025,"month":7,"date":1},{"year":2025,"month":10,"date":1},{"year":2026,"month":1,"date":1},{"year":2026,"month":4,"date":1},{"year":2026,"month":7,"date":1}]}},
    "y": {"field": "v", "type": "quantitative", "scale": {"domain": [0, 226.7], "nice": false},
      "axis": {"title": "Volume", "values": [0, 100, 200], "labelExpr": "datum.value == 0 ? '0' : datum.value + 'M'", "titleX": -44, "titleY": 62}}
  }
},
{
  "width": 1241, "height": 134,
  "data": {"name": "daily"},
  "encoding": {
    "x": {"field": "d", "type": "temporal", "scale": {"domain": [{"year":2024,"month":10,"date":20,"hours":17},{"year":2026,"month":7,"date":19,"hours":17}]},
      "axis": {"title": null, "format": "%b %Y", "labelPadding": 7, "labelFlush": false, "grid": true, "values": [{"year":2025,"month":1,"date":1},{"year":2025,"month":4,"date":1},{"year":2025,"month":7,"date":1},{"year":2025,"month":10,"date":1},{"year":2026,"month":1,"date":1},{"year":2026,"month":4,"date":1},{"year":2026,"month":7,"date":1}]}},
    "y": {"field": "f", "type": "quantitative", "scale": {"domain": [-1, 1], "nice": false},
      "axis": {"title": "Liquidity Flow", "values": [-1, 0, 1], "format": ".2f", "titleX": -44, "titleY": 67}}
  },
  "layer": [
    {"mark": {"type": "line", "color": "#6c6c76", "strokeWidth": 1.2}},
    {"mark": {"type": "point", "shape": "circle", "size": 28, "filled": true, "opacity": 1, "stroke": "#3a3a46", "strokeWidth": 0.7},
      "encoding": {"color": {"field": "f", "type": "quantitative", "scale": {"domain": [-0.3, 0, 0.3], "range": ["#d98a8e", "#a3a3a3", "#78c078"]}, "legend": null}}}
  ]
}
]
}
